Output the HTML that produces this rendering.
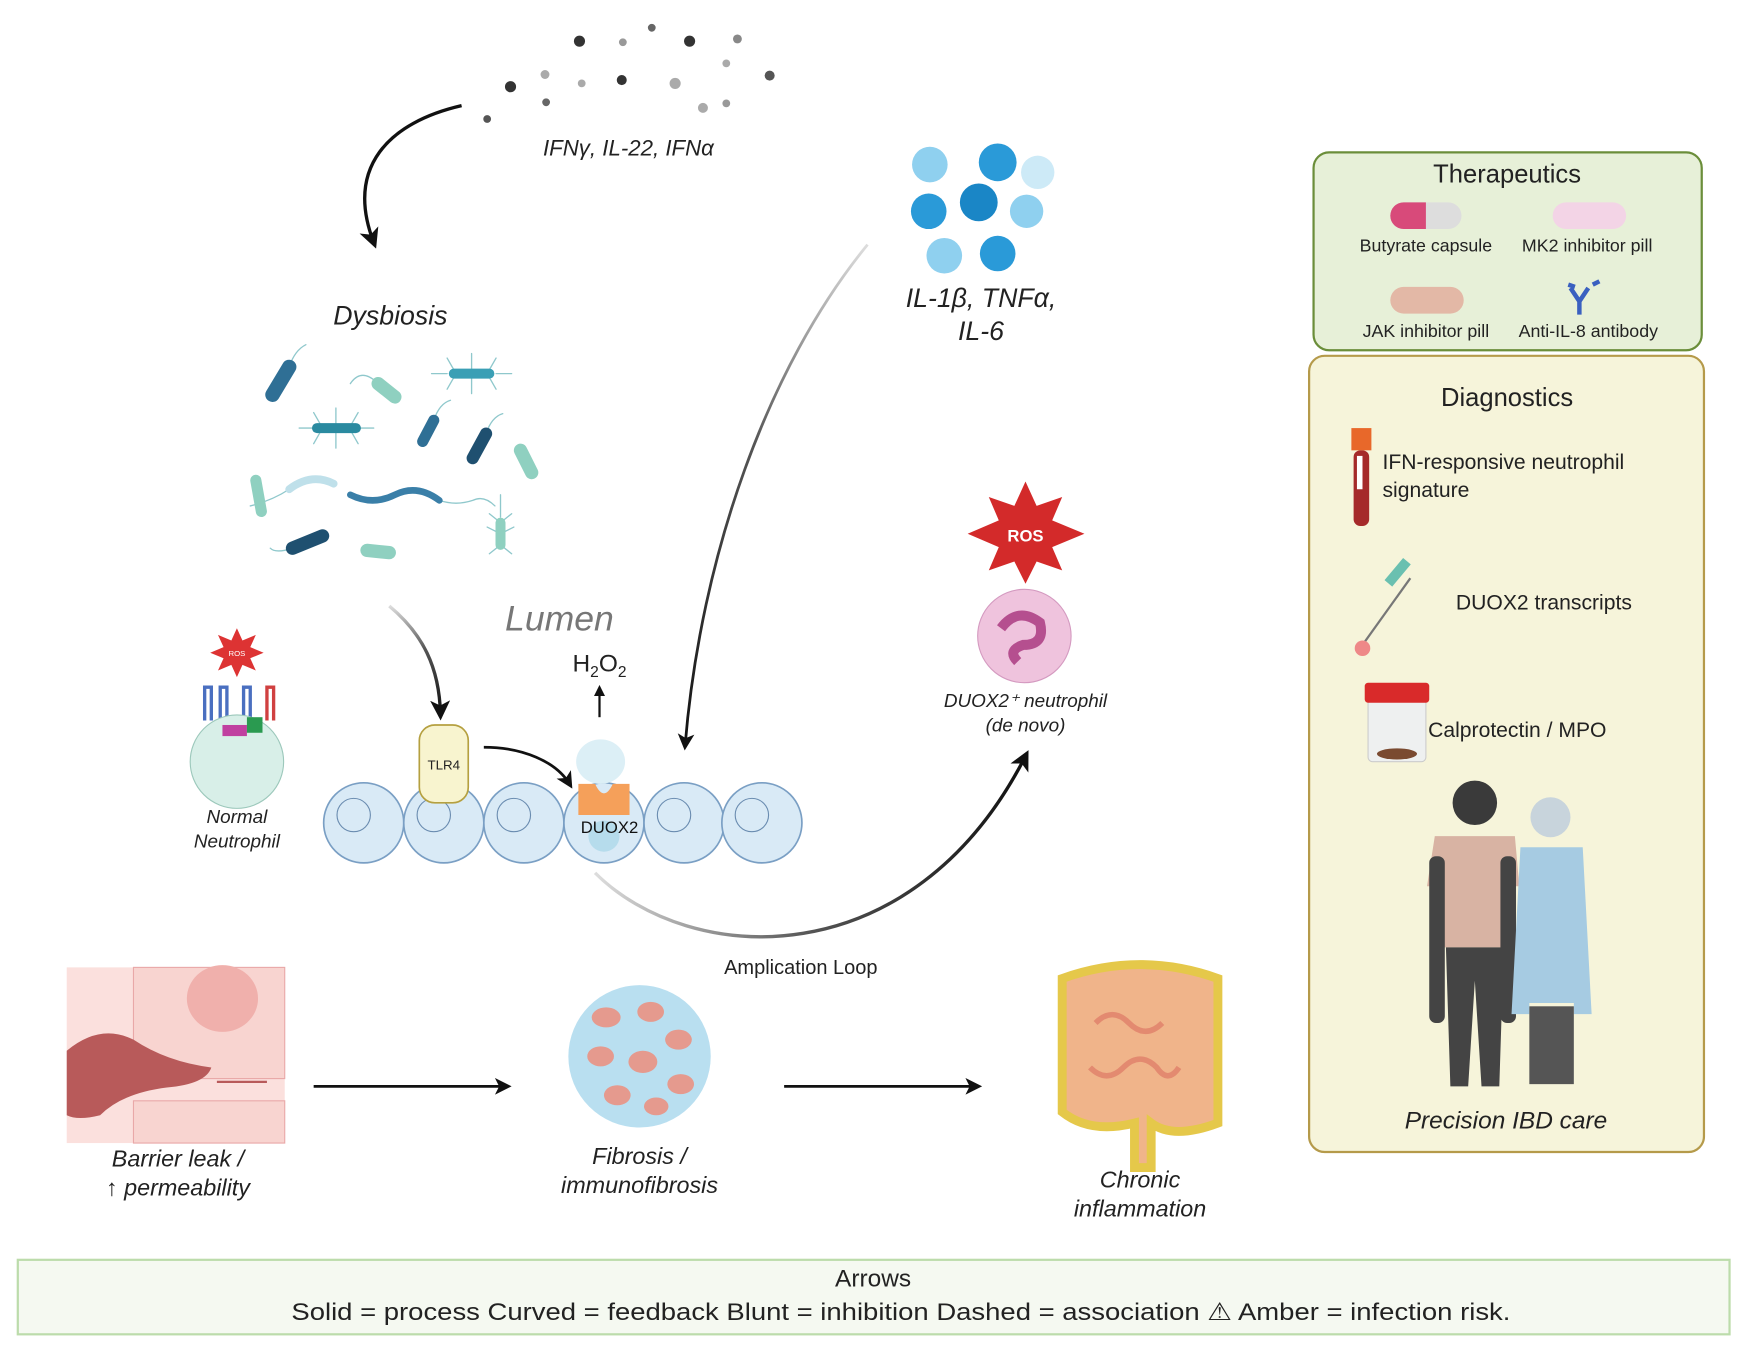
<!DOCTYPE html>
<html><head><meta charset="utf-8"><style>
html,body{margin:0;padding:0;background:#fff}
svg{display:block}
text{font-family:"Liberation Sans",sans-serif}
</style></head><body>
<svg width="1744" height="1351" viewBox="0 0 1568 1215" preserveAspectRatio="none" xmlns="http://www.w3.org/2000/svg">
<defs>
<marker id="ah" markerWidth="6" markerHeight="6" refX="4" refY="3" orient="auto" markerUnits="strokeWidth"><path d="M0,0 L6,3 L0,6 L1.5,3 z" fill="#111"/></marker>
<marker id="ah2" markerWidth="5" markerHeight="5" refX="3" refY="2.5" orient="auto" markerUnits="strokeWidth"><path d="M0,0 L5,2.5 L0,5 z" fill="#111"/></marker>
<linearGradient id="gl" x1="0" y1="0" x2="1" y2="0"><stop offset="0" stop-color="#ddd"/><stop offset="0.5" stop-color="#555"/><stop offset="1" stop-color="#111"/></linearGradient>
<linearGradient id="gv" x1="0" y1="0" x2="0" y2="1"><stop offset="0" stop-color="#ddd"/><stop offset="0.4" stop-color="#555"/><stop offset="1" stop-color="#111"/></linearGradient>
</defs>
<rect width="1568" height="1215" fill="#fff"/>

<g>
<circle cx="521" cy="37" r="5" fill="#333"/><circle cx="586" cy="25" r="3.5" fill="#666"/><circle cx="560" cy="38" r="3.5" fill="#999"/><circle cx="620" cy="37" r="5" fill="#333"/><circle cx="663" cy="35" r="4" fill="#888"/>
<circle cx="490" cy="67" r="4" fill="#aaa"/><circle cx="459" cy="78" r="5" fill="#333"/><circle cx="523" cy="75" r="3.5" fill="#aaa"/><circle cx="559" cy="72" r="4.5" fill="#333"/><circle cx="607" cy="75" r="5" fill="#aaa"/><circle cx="653" cy="57" r="3.5" fill="#aaa"/><circle cx="692" cy="68" r="4.5" fill="#555"/>
<circle cx="491" cy="92" r="3.5" fill="#666"/><circle cx="438" cy="107" r="3.5" fill="#555"/><circle cx="632" cy="97" r="4.5" fill="#aaa"/><circle cx="653" cy="93" r="3.5" fill="#999"/>
</g>
<text x="565" y="140" font-size="20" font-style="italic" text-anchor="middle" fill="#222">IFNγ, IL-22, IFNα</text>
<path d="M415,95 C350,110 310,150 336,218" fill="none" stroke="#111" stroke-width="3" marker-end="url(#ah)"/>

<text x="351" y="292" font-size="24" font-style="italic" text-anchor="middle" fill="#222">Dysbiosis</text>
<g stroke-linecap="round">
<g stroke="#8fc8cc" stroke-width="1.2" fill="none">
<path d="M424,336 l0,-18 M424,336 l0,18 M410,336 l-8,-14 M438,336 l8,-14 M410,336 l-8,14 M438,336 l8,14 M402,336 h-14 M446,336 h14"/>
<path d="M302,385 l0,-18 M302,385 l0,18 M290,385 l-8,-14 M314,385 l8,-14 M290,385 l-8,14 M314,385 l8,14 M285,385 h-16 M320,385 h16"/>
<path d="M450,480 l-12,-6 M450,480 l12,-6 M450,470 l-10,-8 M450,470 l10,-8 M450,490 l-10,8 M450,490 l10,8 M450,465 v-20"/>
<path d="M260,330 q5,-15 15,-20 M390,378 q5,-15 15,-18 M437,390 q5,-15 15,-18 M263,493 q-15,5 -20,0 M315,345 q10,-15 25,0"/>
<path d="M395,450 q15,5 30,0 q10,-5 20,5 M260,440 q-15,10 -35,15"/>
</g>
<line x1="245" y1="355" x2="260" y2="330" stroke="#2f6f95" stroke-width="13"/>
<line x1="340" y1="345" x2="355" y2="357" stroke="#8fd0c0" stroke-width="12"/>
<line x1="408" y1="336" x2="440" y2="336" stroke="#3a9fb5" stroke-width="9"/>
<line x1="285" y1="385" x2="320" y2="385" stroke="#2a8aa0" stroke-width="9"/>
<line x1="380" y1="397" x2="390" y2="378" stroke="#2f6f95" stroke-width="10"/>
<line x1="425" y1="412" x2="437" y2="390" stroke="#1f5070" stroke-width="11"/>
<line x1="468" y1="405" x2="478" y2="425" stroke="#8fd0c0" stroke-width="12"/>
<line x1="230" y1="432" x2="235" y2="460" stroke="#8fd0c0" stroke-width="10"/>
<path d="M260,440 q20,-15 40,-5" fill="none" stroke="#bfe0ea" stroke-width="7"/>
<path d="M315,445 q20,10 40,0 q20,-10 40,5" fill="none" stroke="#3a7fa8" stroke-width="6"/>
<line x1="263" y1="493" x2="290" y2="482" stroke="#1f5070" stroke-width="12"/>
<line x1="330" y1="495" x2="350" y2="497" stroke="#8fd0c0" stroke-width="12"/>
<line x1="450" y1="470" x2="450" y2="490" stroke="#8fd0c0" stroke-width="9"/>
</g>

<text x="503" y="567" font-size="32" font-style="italic" text-anchor="middle" fill="#777">Lumen</text>
<text x="539" y="604" font-size="22" text-anchor="middle" fill="#222">H<tspan font-size="14" dy="5">2</tspan><tspan dy="-5">O</tspan><tspan font-size="14" dy="5">2</tspan></text>
<line x1="539" y1="645" x2="539" y2="620" stroke="#111" stroke-width="2" marker-end="url(#ah2)"/>

<g fill="#d9eaf6" stroke="#7a9fc4" stroke-width="1.5">
<circle cx="327" cy="740" r="36"/><circle cx="399" cy="740" r="36"/><circle cx="471" cy="740" r="36"/><circle cx="543" cy="740" r="36"/><circle cx="615" cy="740" r="36"/><circle cx="685" cy="740" r="36"/>
</g>
<g fill="none" stroke="#6a8cb0" stroke-width="1">
<circle cx="318" cy="733" r="15"/><circle cx="390" cy="733" r="15"/><circle cx="462" cy="733" r="15"/><circle cx="606" cy="733" r="15"/><circle cx="676" cy="733" r="15"/>
</g>
<circle cx="543" cy="752" r="14" fill="#b6dcec"/>
<ellipse cx="540" cy="685" rx="22" ry="20" fill="#dceff6"/>
<path d="M520,705 L535,705 Q543,722 551,705 L566,705 L566,733 L520,733 z" fill="#f5a05a"/>
<text x="548" y="749" font-size="15" text-anchor="middle" fill="#111">DUOX2</text>
<rect x="377" y="652" width="44" height="70" rx="14" fill="#f8f4cf" stroke="#b5a040" stroke-width="1.5"/>
<text x="399" y="692" font-size="12" text-anchor="middle" fill="#222">TLR4</text>
<path d="M350,545 C380,570 395,600 396,642" fill="none" stroke="url(#gv)" stroke-width="3" marker-end="url(#ah)"/>
<path d="M435,672 C470,672 500,685 512,705" fill="none" stroke="#111" stroke-width="2.5" marker-end="url(#ah)"/>
<path d="M780,220 C690,330 630,500 616,670" fill="none" stroke="url(#gv)" stroke-width="2.5" marker-end="url(#ah)"/>

<polygon points="213,565 218,576 230,571 225,582 237,587 225,592 230,603 218,598 213,609 208,598 196,603 201,592 189,587 201,582 196,571 208,576" fill="#d33"/>
<text x="213" y="590" font-size="7" text-anchor="middle" fill="#fff">ROS</text>
<g fill="none" stroke-width="3"><path d="M184,648 v-30 h6 v30" stroke="#4a6fc0"/><path d="M198,648 v-30 h6 v30" stroke="#4a6fc0"/><path d="M219,648 v-30 h6 v30" stroke="#4a6fc0"/><path d="M240,648 v-30 h6 v30" stroke="#d04040"/></g>
<circle cx="213" cy="685" r="42" fill="#d8efe8" stroke="#9cc8bb"/>
<rect x="200" y="652" width="22" height="10" fill="#c040a0"/><rect x="222" y="645" width="14" height="14" fill="#2a9a50"/>
<text x="213" y="740" font-size="17" font-style="italic" text-anchor="middle" fill="#222">Normal</text>
<text x="213" y="762" font-size="17" font-style="italic" text-anchor="middle" fill="#222">Neutrophil</text>

<g><circle cx="836" cy="148" r="16" fill="#8fd0ef"/><circle cx="897" cy="146" r="17" fill="#2a9ad8"/><circle cx="933" cy="155" r="15" fill="#cdeaf7"/><circle cx="835" cy="190" r="16" fill="#2a9ad8"/><circle cx="880" cy="182" r="17" fill="#1a86c6"/><circle cx="923" cy="190" r="15" fill="#8fd0ef"/><circle cx="849" cy="230" r="16" fill="#8fd0ef"/><circle cx="897" cy="228" r="16" fill="#2a9ad8"/></g>
<text x="882" y="276" font-size="24" font-style="italic" text-anchor="middle" fill="#222">IL-1β, TNFα,</text>
<text x="882" y="306" font-size="24" font-style="italic" text-anchor="middle" fill="#222">IL-6</text>

<polygon points="922,433 932,455 955,447 946,468 975,480 946,492 955,513 932,505 922,525 912,505 889,513 898,492 870,480 898,468 889,447 912,455" fill="#d32a2a"/>
<text x="922" y="487" font-size="15" font-weight="bold" text-anchor="middle" fill="#fff">ROS</text>
<circle cx="921" cy="572" r="42" fill="#efc3dd" stroke="#d49ac0"/>
<path d="M900,565 q15,-20 35,-5 q5,20 -15,20 q-15,5 -5,15" fill="none" stroke="#b54f8f" stroke-width="9"/>
<text x="922" y="636" font-size="17" font-style="italic" text-anchor="middle" fill="#222">DUOX2⁺ neutrophil</text>
<text x="922" y="658" font-size="17" font-style="italic" text-anchor="middle" fill="#222">(de novo)</text>
<path d="M535,785 C620,870 820,880 922,680" fill="none" stroke="url(#gl)" stroke-width="3" marker-end="url(#ah)"/>
<text x="720" y="876" font-size="18" text-anchor="middle" fill="#222">Amplication Loop</text>

<rect x="60" y="870" width="196" height="158" fill="#fbe0dd"/>
<rect x="120" y="870" width="136" height="100" fill="#f8d4d0" stroke="#e9a8a8"/>
<rect x="120" y="990" width="136" height="38" fill="#f8d4d0" stroke="#e9a8a8"/>
<ellipse cx="200" cy="898" rx="32" ry="30" fill="#f0b0ac"/>
<path d="M60,945 q30,-25 60,-10 q30,20 70,25 q-5,15 -40,18 q-40,5 -60,25 q-20,5 -30,0 z" fill="#b85a5a"/>
<line x1="195" y1="973" x2="240" y2="973" stroke="#b85a5a" stroke-width="2"/>
<text x="160" y="1049" font-size="21" font-style="italic" text-anchor="middle" fill="#222">Barrier leak /</text>
<text x="160" y="1075" font-size="21" font-style="italic" text-anchor="middle" fill="#222">↑ permeability</text>
<line x1="282" y1="977" x2="455" y2="977" stroke="#111" stroke-width="2.5" marker-end="url(#ah)"/>

<circle cx="575" cy="950" r="64" fill="#b9dff0"/>
<g fill="#e59a8e"><ellipse cx="545" cy="915" rx="13" ry="9"/><ellipse cx="585" cy="910" rx="12" ry="9"/><ellipse cx="610" cy="935" rx="12" ry="9"/><ellipse cx="540" cy="950" rx="12" ry="9"/><ellipse cx="578" cy="955" rx="13" ry="10"/><ellipse cx="612" cy="975" rx="12" ry="9"/><ellipse cx="555" cy="985" rx="12" ry="9"/><ellipse cx="590" cy="995" rx="11" ry="8"/></g>
<text x="575" y="1047" font-size="21" font-style="italic" text-anchor="middle" fill="#222">Fibrosis /</text>
<text x="575" y="1073" font-size="21" font-style="italic" text-anchor="middle" fill="#222">immunofibrosis</text>
<line x1="705" y1="977" x2="878" y2="977" stroke="#111" stroke-width="2.5" marker-end="url(#ah)"/>

<path d="M955,880 q70,-25 140,0 v130 q-40,15 -60,0 v40 h-15 v-40 q-40,10 -65,-10 z" fill="#f0b48a" stroke="#e5c84a" stroke-width="8"/>
<g fill="none" stroke="#e38a70" stroke-width="5"><path d="M985,920 q15,-15 30,0 q15,15 30,0"/><path d="M980,960 q15,15 30,0 q15,-15 30,0 q10,15 20,0"/></g>
<text x="1025" y="1068" font-size="21" font-style="italic" text-anchor="middle" fill="#222">Chronic</text>
<text x="1025" y="1094" font-size="21" font-style="italic" text-anchor="middle" fill="#222">inflammation</text>

<rect x="1181" y="137" width="349" height="178" rx="14" fill="#e7f0d8" stroke="#6b8e3a" stroke-width="2"/>
<text x="1355" y="164" font-size="23" text-anchor="middle" fill="#222">Therapeutics</text>
<rect x="1250" y="182" width="64" height="24" rx="12" fill="#ddd"/><path d="M1262,182 h20 v24 h-20 a12,12 0 0 1 0,-24z" fill="#d84a7a"/>
<rect x="1396" y="182" width="66" height="24" rx="12" fill="#f3d4e6"/>
<text x="1282" y="226" font-size="16" text-anchor="middle" fill="#222">Butyrate capsule</text>
<text x="1427" y="226" font-size="16" text-anchor="middle" fill="#222">MK2 inhibitor pill</text>
<rect x="1250" y="258" width="66" height="24" rx="12" fill="#e3b8a6"/>
<path d="M1420,283 v-12 l-8,-12 M1420,271 l8,-12 M1416,258 l-6,-2 M1432,256 l6,-3" fill="none" stroke="#3a60c0" stroke-width="4"/>
<text x="1282" y="303" font-size="16" text-anchor="middle" fill="#222">JAK inhibitor pill</text>
<text x="1428" y="303" font-size="16" text-anchor="middle" fill="#222">Anti-IL-8 antibody</text>

<rect x="1177" y="320" width="355" height="716" rx="14" fill="#f6f4da" stroke="#b59a4a" stroke-width="2"/>
<text x="1355" y="365" font-size="23" text-anchor="middle" fill="#222">Diagnostics</text>
<rect x="1215" y="385" width="18" height="20" fill="#e8682a"/><rect x="1217" y="405" width="14" height="68" rx="6" fill="#a52a2a"/><rect x="1220" y="410" width="5" height="30" fill="#fff"/>
<text x="1243" y="422" font-size="19" fill="#222">IFN-responsive neutrophil</text>
<text x="1243" y="447" font-size="19" fill="#222">signature</text>
<line x1="1225" y1="580" x2="1268" y2="520" stroke="#777" stroke-width="2"/><rect x="1244" y="510" width="26" height="9" fill="#6ac0b0" transform="rotate(-50 1257 515)"/><circle cx="1225" cy="583" r="7" fill="#e88"/>
<text x="1309" y="548" font-size="19" fill="#222">DUOX2 transcripts</text>
<rect x="1230" y="625" width="52" height="60" rx="4" fill="#eef0f0" stroke="#ccc"/><rect x="1227" y="614" width="58" height="18" rx="3" fill="#d92a2a"/><ellipse cx="1256" cy="678" rx="18" ry="5" fill="#7a4a30"/>
<text x="1284" y="663" font-size="19" fill="#222">Calprotectin / MPO</text>
<circle cx="1326" cy="722" r="20" fill="#3a3a3a"/>
<path d="M1290,752 h72 l4,45 h-14 v55 h-55 v-55 h-14 z" fill="#d8b3a3"/>
<rect x="1285" y="770" width="14" height="150" rx="6" fill="#444"/><rect x="1349" y="770" width="14" height="150" rx="6" fill="#444"/>
<path d="M1300,852 h52 l-4,125 h-16 l-6,-95 l-6,95 h-16 z" fill="#444"/>
<circle cx="1394" cy="735" r="18" fill="#c8d4dc"/>
<path d="M1367,762 h56 l8,150 h-16 v-10 h-40 v10 h-16 z" fill="#a6cbe2"/>
<rect x="1375" y="905" width="40" height="70" fill="#555"/>
<text x="1354" y="1015" font-size="22" font-style="italic" text-anchor="middle" fill="#222">Precision IBD care</text>

<rect x="16" y="1133" width="1539" height="67" fill="#f5f9f1" stroke="#bcdcab" stroke-width="2"/>
<text x="785" y="1157" font-size="22" text-anchor="middle" fill="#222">Arrows</text>
<text x="262" y="1187" font-size="22" textLength="1096" lengthAdjust="spacingAndGlyphs" fill="#222">Solid = process Curved = feedback Blunt = inhibition Dashed = association ⚠ Amber = infection risk.</text>
</svg>
</body></html>
